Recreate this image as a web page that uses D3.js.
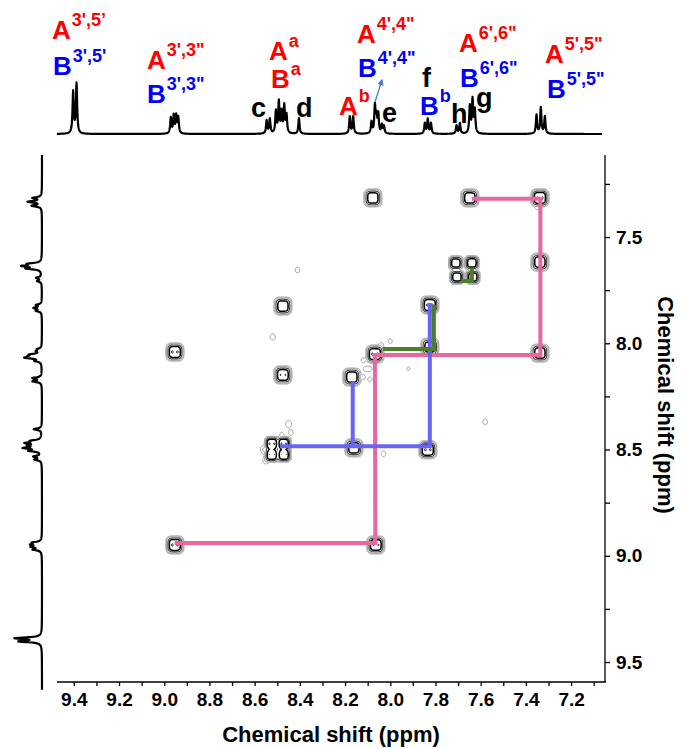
<!DOCTYPE html>
<html>
<head>
<meta charset="utf-8">
<script src="https://cdn.jsdelivr.net/npm/d3@7"></script>
<style>
  body { margin: 0; background: #fff; }
  svg { display: block; }
  text { font-family: "Liberation Sans", Arial, Helvetica, sans-serif; font-weight: bold; }
</style>
</head>
<body>
<svg id="chart" width="683" height="749"></svg>
<script>
// ---------------- data ----------------
// 1H spectrum lines: chemical shift (ppm)
const protonShifts = [9.403, 9.388,
  8.971, 8.958, 8.947, 8.938,
  8.547, 8.533,
  8.506, 8.493, 8.481, 8.469, 8.459,
  8.404,
  8.179, 8.164,
  8.083, 8.068, 8.061, 8.053,
  8.037, 8.028,
  7.847, 7.834, 7.820,
  7.707, 7.692,
  7.648, 7.636, 7.626,
  7.353, 7.334, 7.316];
// 1H spectrum lines: relative heights
const protonHeights = [80, 96,
  30, 34, 33, 30,
  25, 28,
  42, 60, 40, 52, 34,
  30,
  33, 33,
  22, 52, 30, 36,
  16, 14,
  20, 28, 20,
  16, 20,
  52, 64, 44,
  36, 50, 33];

// COSY correlations: F2 shift (ppm)
const peakF2 = [8.077, 7.648, 7.338, 7.338,
  7.710, 7.639, 7.705, 7.635,
  8.475, 7.825, 8.953, 8.475, 8.068, 7.825, 7.338, 8.170,
  8.524, 8.471, 8.524, 8.471,
  8.161, 7.834, 8.953, 8.064];
// COSY correlations: F1 shift (ppm)
const peakF1 = [7.316, 7.316, 7.316, 7.618,
  7.622, 7.622, 7.688, 7.688,
  7.825, 7.820, 8.041, 8.149, 8.051, 8.018, 8.046, 8.159,
  8.473, 8.473, 8.525, 8.525,
  8.492, 8.501, 8.949, 8.949];
// COSY correlations: relative intensity
const peakAmp = [0.9, 0.9, 1.0, 0.9,
  0.85, 0.9, 0.85, 0.85,
  0.9, 1.0, 1.0, 0.95, 1.0, 0.85, 0.9, 0.9,
  1.0, 1.0, 0.95, 0.95,
  0.9, 1.0, 1.0, 0.95];

// weak artefacts in the 2D map: F2, F1, intensity
const noiseF2 = [8.52, 8.45, 8.44, 8.48, 8.03, 7.58, 8.12, 8.11, 8.09, 8.12, 8.09, 8.04, 8.00, 7.92, 8.41, 7.35, 8.56, 8.55];
const noiseF1 = [7.97, 8.38, 8.42, 8.43, 8.52, 8.37, 8.08, 8.12, 8.12, 8.16, 8.17, 8.01, 7.99, 8.12, 7.655, 7.36, 8.50, 8.55];
const noiseAmp = [0.07, 0.09, 0.06, 0.05, 0.06, 0.06, 0.05, 0.05, 0.05, 0.05, 0.05, 0.06, 0.05, 0.04, 0.06, 0.05, 0.12, 0.1];

// coupling pathways (F2, F1 corner points in ppm)
const pathA = [[7.639, 7.32], [7.336, 7.32], [7.336, 8.055], [8.068, 8.055], [8.066, 8.94], [8.953, 8.94]];
const pathB = [[7.825, 7.81], [7.825, 8.484], [8.488, 8.484]];
const pathB2 = [[8.166, 8.178], [8.166, 8.484]];
const pathG = [[7.807, 7.82], [7.807, 8.027], [8.033, 8.027]];
const pathG2 = [[7.639, 7.646], [7.639, 7.707], [7.688, 7.707]];

const xTickValues = [9.4, 9.2, 9.0, 8.8, 8.6, 8.4, 8.2, 8.0, 7.8, 7.6, 7.4, 7.2];
const yTickValues = [7.5, 8.0, 8.5, 9.0, 9.5];
const axisTitle = "Chemical shift (ppm)";

// ---------------- layout ----------------
const svg = d3.select("#chart");
const RED = "#ff0000", BLUE = "#0000ff", BLACK = "#000000";

const x = d3.scaleLinear().domain([9.47, 7.05]).range([58, 605]);
const y = d3.scaleLinear().domain([7.114, 9.594]).range([155, 682]);

// ---------- contour map ----------
const gx0 = 57, gy0 = 154, gw = 550, gh = 530;
const grid = new Float64Array(gw * gh);
function addSquircle(f2, f1, amp, halfPx) {
  const cx = x(f2) - gx0, cy = y(f1) - gy0;
  const r = Math.ceil(halfPx * 2.2);
  for (let j = Math.max(0, Math.floor(cy - r)); j < Math.min(gh, cy + r); j++) {
    for (let i = Math.max(0, Math.floor(cx - r)); i < Math.min(gw, cx + r); i++) {
      const dx = (i + 0.5 - cx) / halfPx, dy = (j + 0.5 - cy) / halfPx;
      grid[j * gw + i] += amp * Math.exp(-(dx * dx * dx * dx + dy * dy * dy * dy));
    }
  }
}
function addBlob(f2, f1, amp, sx, sy) {
  const cx = x(f2) - gx0, cy = y(f1) - gy0;
  const r = Math.ceil(Math.max(sx, sy) * 3.5);
  for (let j = Math.max(0, Math.floor(cy - r)); j < Math.min(gh, cy + r); j++) {
    for (let i = Math.max(0, Math.floor(cx - r)); i < Math.min(gw, cx + r); i++) {
      const dx = (i + 0.5 - cx) / sx, dy = (j + 0.5 - cy) / sy;
      grid[j * gw + i] += amp * Math.exp(-0.5 * (dx * dx + dy * dy));
    }
  }
}
const clusterSet = new Set([4, 5, 6, 7, 16, 17, 18, 19]);
peakF2.forEach((f2, k) => {
  const half = clusterSet.has(k) ? 5.4 : 6.6;
  addSquircle(f2, peakF1[k], peakAmp[k], half);
  // fine multiplet structure on top of each correlation
  const cx = x(f2);
  addBlob(x.invert(cx - 2.8), peakF1[k], 0.2, 0.8, 0.8);
  addBlob(x.invert(cx + 2.8), peakF1[k], 0.2, 0.8, 0.8);
});
noiseF2.forEach((f2, k) => addBlob(f2, noiseF1[k], noiseAmp[k], 2.0, 2.4));

const levels = [0.03, 0.1, 0.3, 0.62, 1.06];
const contours = d3.contours().size([gw, gh]).thresholds(levels)(grid);
const toScreen = d3.geoTransform({
  point(px, py) { this.stream.point(gx0 + px, gy0 + py); }
});
const cPath = d3.geoPath(toScreen);
const shade = d3.scaleLinear().domain([0.03, 0.62]).range(["#8a8a8a", "#000000"]).clamp(true);
const weight = d3.scaleLinear().domain([0.03, 0.62]).range([0.8, 1.5]).clamp(true);
svg.append("g").selectAll("path").data(contours).join("path")
  .attr("d", cPath)
  .attr("fill", "none")
  .attr("stroke", d => shade(d.value))
  .attr("stroke-width", d => d.value > 1 ? 0.9 : weight(d.value));

// ---------- coupling pathways ----------
const pLine = d3.line().x(d => x(d[0])).y(d => y(d[1]));
const drawPath = (pts, color) => svg.append("path").attr("d", pLine(pts))
  .attr("fill", "none").attr("stroke", color).attr("stroke-width", 4)
  .attr("stroke-linejoin", "miter").attr("stroke-linecap", "butt");
drawPath(pathA, "#e8679f");
drawPath(pathB, "#6a64f4");
drawPath(pathB2, "#6a64f4");
drawPath(pathG, "#4c7f2c");
drawPath(pathG2, "#4c7f2c");

// ---------- 1D projections ----------
function intensity(ppm, hw) {
  let s = 0;
  for (let k = 0; k < protonShifts.length; k++) {
    const d = ppm - protonShifts[k];
    s += protonHeights[k] * hw * hw / (d * d + hw * hw);
  }
  return s;
}
const topSamples = d3.range(9.475, 7.062, -0.001);
const topLine = d3.line().x(d => x(d)).y(d => 134 - intensity(d, 0.0032) * 0.52);
svg.append("path").attr("d", topLine(topSamples))
  .attr("fill", "none").attr("stroke", "#000").attr("stroke-width", 2.2)
  .attr("stroke-linejoin", "round");

const sideSamples = d3.range(7.114, 9.63, 0.001);
const sideLine = d3.line().x(d => 42 - intensity(d, 0.0045) * 0.27).y(d => y(d));
svg.append("path").attr("d", sideLine(sideSamples))
  .attr("fill", "none").attr("stroke", "#000").attr("stroke-width", 2.2)
  .attr("stroke-linejoin", "round");

// ---------- axes ----------
const xAxis = d3.axisBottom(x).tickValues(d3.range(9.4, 7.05, -0.1).map(v => +v.toFixed(1)))
  .tickSize(4).tickFormat(d => xTickValues.some(t => Math.abs(t - d) < 1e-6) ? d3.format(".1f")(d) : "");
const gx = svg.append("g").attr("transform", "translate(0,682)").call(xAxis);
gx.select(".domain").attr("d", "M57,0H606").attr("stroke-width", 1.3);
gx.selectAll(".tick line").attr("stroke-width", 1.3);
gx.selectAll(".tick text").attr("font-size", 19).attr("fill", "#000").attr("dy", "0.9em")
  .attr("font-family", "'Liberation Sans', Arial, sans-serif").attr("font-weight", "bold");

const yAxis = d3.axisRight(y).tickValues(d3.range(7.25, 9.6, 0.25))
  .tickSize(5).tickFormat(d => yTickValues.some(t => Math.abs(t - d) < 1e-6) ? d3.format(".1f")(d) : "");
const gy = svg.append("g").attr("transform", "translate(605,0)").call(yAxis);
gy.select(".domain").attr("d", "M0,155V682").attr("stroke-width", 1.3);
gy.selectAll(".tick line").attr("stroke-width", 1.3);
gy.selectAll(".tick text").attr("font-size", 19).attr("fill", "#000").attr("x", 11)
  .attr("font-family", "'Liberation Sans', Arial, sans-serif").attr("font-weight", "bold");

svg.append("text").attr("x", 331).attr("y", 742).attr("text-anchor", "middle")
  .attr("font-size", 22).text(axisTitle);
svg.append("text").attr("transform", "translate(658,405) rotate(90)").attr("text-anchor", "middle")
  .attr("font-size", 22).text(axisTitle);

// ---------- assignments ----------
const assignments = [
  ["A", "3',5\u2019", RED, 52, 39], ["B", "3',5'", BLUE, 53, 75],
  ["A", "3',3\"", RED, 147, 69], ["B", "3',3\"", BLUE, 147, 103],
  ["A", "a", RED, 269, 60], ["B", "a", RED, 271, 88],
  ["A", "b", RED, 339, 115],
  ["A", "4',4\"", RED, 357, 43], ["B", "4',4\"", BLUE, 358, 77],
  ["B", "b", BLUE, 420, 115],
  ["A", "6',6\"", RED, 459, 52], ["B", "6',6\"", BLUE, 460, 87],
  ["A", "5',5\"", RED, 545, 63], ["B", "5',5\"", BLUE, 547, 98]
];
assignments.forEach(([m, s, c, px, py]) => {
  const t = svg.append("text").attr("x", px).attr("y", py).attr("fill", c);
  t.append("tspan").attr("font-size", 26).text(m);
  t.append("tspan").attr("font-size", 18).attr("dx", 1).attr("dy", -13).text(s);
});
const letters = [["c", 251, 117], ["d", 296, 117], ["e", 382, 122], ["f", 422, 87], ["h", 451, 123], ["g", 476, 107]];
letters.forEach(([s, px, py]) => svg.append("text").attr("x", px).attr("y", py)
  .attr("font-size", 27).attr("fill", BLACK).text(s));

// pointer from the 8.07 multiplet to its label
svg.append("defs").append("marker").attr("id", "ah").attr("viewBox", "0 0 10 10")
  .attr("refX", 8).attr("refY", 5).attr("markerWidth", 5).attr("markerHeight", 5)
  .attr("orient", "auto").append("path").attr("d", "M0,0L10,5L0,10Z").attr("fill", "#4a7bc8");
svg.append("line").attr("x1", 375).attr("y1", 102).attr("x2", 382).attr("y2", 80)
  .attr("stroke", "#4a7bc8").attr("stroke-width", 1.3).attr("marker-end", "url(#ah)");
</script>
</body>
</html>
